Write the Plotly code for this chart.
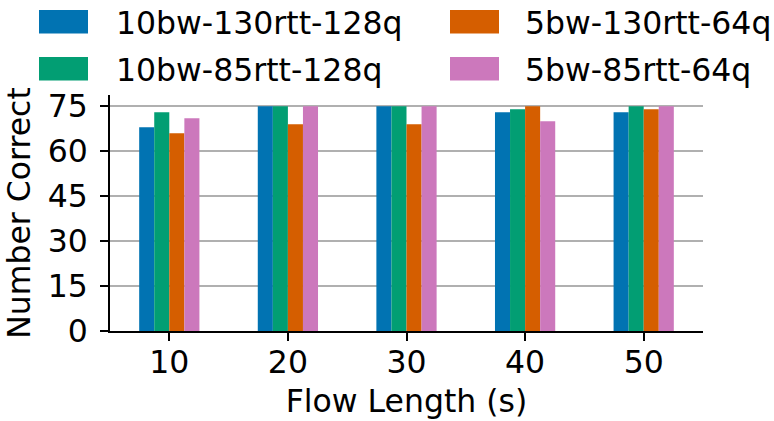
import plotly.graph_objects as go

# ---- data ----
flow_lengths = [10, 20, 30, 40, 50]
series_names = ["10bw-130rtt-128q", "10bw-85rtt-128q", "5bw-130rtt-64q", "5bw-85rtt-64q"]
vals_10bw_130 = [68, 75, 75, 73, 73]
vals_10bw_85 = [73, 75, 75, 74, 75]
vals_5bw_130 = [66, 69, 69, 75, 74]
vals_5bw_85 = [71, 75, 75, 70, 75]
y_ticks = [0, 15, 30, 45, 60, 75]

series_vals = [vals_10bw_130, vals_10bw_85, vals_5bw_130, vals_5bw_85]
colors = ["#0173b2", "#029e73", "#d55e00", "#cc78bc"]

W, H = 774, 421
ML, MR, MT, MB = 110, 71, 95, 90
PW, PH = W - ML - MR, H - MT - MB
FONT = "DejaVu Sans"
FS = 31.5


def px_x(p):
    return (p - ML) / PW


def px_y(p):
    return (H - MB - p) / PH


fig = go.Figure()
bw = 1.27
for i, (name, vals, c) in enumerate(zip(series_names, series_vals, colors)):
    fig.add_trace(go.Bar(
        x=flow_lengths, y=vals, name=name,
        width=bw, offset=-2 * bw + i * bw,
        marker=dict(color=c, line=dict(width=0)),
        showlegend=False,
    ))

# manual legend (matplotlib-style large patches), 2 columns filled column-wise
legend_layout = [
    (0, 39, 10, 114),    # name index, patch x, patch y(top), text x
    (1, 39, 57, 114),
    (2, 450, 10, 523),
    (3, 450, 57, 523),
]
shapes = []
annotations = []
for idx, x0, y0, tx in legend_layout:
    shapes.append(dict(type="rect", xref="paper", yref="paper",
                       x0=px_x(x0), x1=px_x(x0 + 49), y0=px_y(y0), y1=px_y(y0 + 23.5),
                       fillcolor=colors[idx], line=dict(width=0), layer="above"))
    annotations.append(dict(text=series_names[idx], xref="paper", yref="paper",
                            x=px_x(tx), y=px_y(y0 + 13), xanchor="left", yanchor="middle",
                            showarrow=False, font=dict(family=FONT, size=FS, color="black")))

fig.update_layout(
    width=W, height=H,
    margin=dict(l=ML, r=MR, t=MT, b=MB, pad=0, autoexpand=False),
    paper_bgcolor="white", plot_bgcolor="white",
    barmode="overlay",
    font=dict(family=FONT, size=FS, color="black"),
    shapes=shapes, annotations=annotations,
    showlegend=False,
)
fig.update_xaxes(
    range=[5, 55], tickvals=flow_lengths, ticktext=[str(v) for v in flow_lengths],
    showgrid=False, zeroline=False, automargin=False,
    showline=True, linecolor="black", linewidth=1.6,
    ticks="outside", ticklen=8, tickwidth=1.6, tickcolor="black",
    ticklabelstandoff=-6,
    title=dict(text="Flow Length (s)", standoff=11, font=dict(family=FONT, size=FS)),
)
fig.update_yaxes(
    range=[0, 78.75], tickvals=y_ticks,
    showgrid=True, gridcolor="#b0b0b0", gridwidth=1.6, zeroline=False, automargin=False,
    showline=True, linecolor="black", linewidth=1.6,
    ticks="outside", ticklen=8, tickwidth=1.6, tickcolor="black",
    ticklabelstandoff=6,
    title=dict(text="Number Correct", standoff=8, font=dict(family=FONT, size=FS)),
)

fig.write_html("out.html")
